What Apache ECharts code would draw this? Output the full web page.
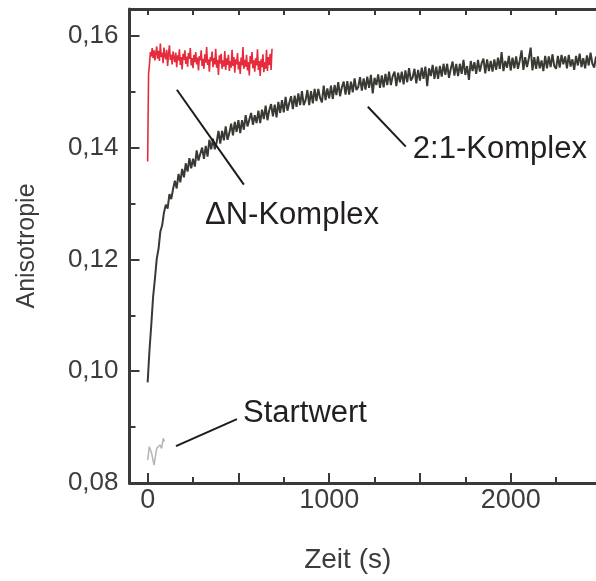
<!DOCTYPE html>
<html><head><meta charset="utf-8">
<script src="https://cdn.jsdelivr.net/npm/echarts@6/dist/echarts.min.js"></script>
<style>html,body{margin:0;padding:0;background:#fff}#c{width:596px;height:581px}</style>
</head><body><div id="c"></div>
<script>
// ---- tick values ----
const xMajorTicks = [0, 500, 1000, 1500, 2000];
const xLabelValues = [0, 1000, 2000];
const xMinorTicks = [250, 750, 1250, 1750, 2250];
const xTopTicks = [0, 250, 500, 750, 1000, 1250, 1500, 1750, 2000, 2250];
const yMajorTicks = [0.08, 0.10, 0.12, 0.14, 0.16];
const yMinorTicks = [0.09, 0.11, 0.13, 0.15];

// ---- 2:1-Komplex (black), sampled every 10 s from t = 0 ----
const complexStart = 0, complexStep = 10;
const complex21 = [
  0.0980, 0.1037, 0.1083, 0.1133, 0.1165, 0.1201, 0.1219, 0.1250, 0.1261, 0.1284,
  0.1298, 0.1291, 0.1317, 0.1308, 0.1326, 0.1341, 0.1327, 0.1353, 0.1338, 0.1362,
  0.1347, 0.1372, 0.1357, 0.1381, 0.1363, 0.1380, 0.1366, 0.1395, 0.1377, 0.1389,
  0.1400, 0.1380, 0.1403, 0.1384, 0.1414, 0.1397, 0.1416, 0.1397, 0.1409, 0.1430,
  0.1407, 0.1430, 0.1413, 0.1438, 0.1414, 0.1426, 0.1443, 0.1422, 0.1446, 0.1428,
  0.1449, 0.1426, 0.1449, 0.1432, 0.1458, 0.1438, 0.1435, 0.1462, 0.1441, 0.1458,
  0.1444, 0.1466, 0.1444, 0.1468, 0.1451, 0.1475, 0.1449, 0.1467, 0.1478, 0.1456,
  0.1477, 0.1454, 0.1482, 0.1462, 0.1485, 0.1463, 0.1491, 0.1466, 0.1480, 0.1492,
  0.1469, 0.1493, 0.1473, 0.1497, 0.1476, 0.1501, 0.1476, 0.1485, 0.1503, 0.1476,
  0.1501, 0.1479, 0.1505, 0.1483, 0.1505, 0.1489, 0.1481, 0.1511, 0.1485, 0.1506,
  0.1488, 0.1511, 0.1487, 0.1512, 0.1494, 0.1517, 0.1492, 0.1508, 0.1518, 0.1495,
  0.1519, 0.1495, 0.1518, 0.1499, 0.1524, 0.1503, 0.1508, 0.1526, 0.1502, 0.1524,
  0.1504, 0.1527, 0.1507, 0.1530, 0.1497, 0.1525, 0.1512, 0.1531, 0.1507, 0.1529,
  0.1508, 0.1532, 0.1512, 0.1536, 0.1512, 0.1528, 0.1536, 0.1510, 0.1534, 0.1517,
  0.1536, 0.1513, 0.1538, 0.1517, 0.1542, 0.1520, 0.1526, 0.1541, 0.1515, 0.1539,
  0.1520, 0.1543, 0.1523, 0.1545, 0.1510, 0.1542, 0.1528, 0.1548, 0.1523, 0.1545,
  0.1523, 0.1546, 0.1527, 0.1550, 0.1530, 0.1550, 0.1525, 0.1541, 0.1554, 0.1529,
  0.1550, 0.1528, 0.1550, 0.1532, 0.1557, 0.1530, 0.1546, 0.1521, 0.1555, 0.1537,
  0.1553, 0.1532, 0.1557, 0.1536, 0.1551, 0.1559, 0.1533, 0.1558, 0.1537, 0.1555,
  0.1536, 0.1558, 0.1539, 0.1561, 0.1541, 0.1571, 0.1537, 0.1555, 0.1543, 0.1564,
  0.1538, 0.1561, 0.1542, 0.1563, 0.1541, 0.1556, 0.1574, 0.1539, 0.1562, 0.1544,
  0.1560, 0.1579, 0.1538, 0.1562, 0.1541, 0.1563, 0.1542, 0.1556, 0.1537, 0.1564,
  0.1542, 0.1563, 0.1544, 0.1567, 0.1546, 0.1541, 0.1564, 0.1543, 0.1566, 0.1549,
  0.1563, 0.1542, 0.1566, 0.1545, 0.1558, 0.1539, 0.1564, 0.1547, 0.1568, 0.1544,
  0.1560, 0.1542, 0.1565, 0.1547, 0.1570, 0.1550, 0.1543, 0.1563
];

// ---- ΔN-Komplex (red), sampled every 5 s from t = 0 ----
const deltaNStart = 0, deltaNStep = 5;
const deltaN = [
  0.1375, 0.1532, 0.1549, 0.1571, 0.1563, 0.1578, 0.1560, 0.1574, 0.1556, 0.1569,
  0.1581, 0.1559, 0.1573, 0.1555, 0.1586, 0.1562, 0.1570, 0.1551, 0.1579, 0.1564,
  0.1558, 0.1575, 0.1546, 0.1568, 0.1583, 0.1557, 0.1566, 0.1549, 0.1572, 0.1561,
  0.1553, 0.1570, 0.1544, 0.1565, 0.1556, 0.1576, 0.1548, 0.1562, 0.1540, 0.1568,
  0.1557, 0.1574, 0.1550, 0.1563, 0.1545, 0.1569, 0.1559, 0.1578, 0.1547, 0.1560,
  0.1542, 0.1566, 0.1553, 0.1571, 0.1549, 0.1561, 0.1538, 0.1564, 0.1556, 0.1574,
  0.1546, 0.1559, 0.1541, 0.1567, 0.1552, 0.1580, 0.1548, 0.1558, 0.1536, 0.1562,
  0.1555, 0.1572, 0.1544, 0.1560, 0.1549, 0.1577, 0.1543, 0.1557, 0.1530, 0.1565,
  0.1550, 0.1568, 0.1541, 0.1556, 0.1545, 0.1573, 0.1539, 0.1560, 0.1548, 0.1566,
  0.1537, 0.1555, 0.1543, 0.1575, 0.1546, 0.1562, 0.1534, 0.1558, 0.1549, 0.1569,
  0.1540, 0.1554, 0.1532, 0.1561, 0.1547, 0.1580, 0.1541, 0.1557, 0.1545, 0.1566,
  0.1538, 0.1553, 0.1529, 0.1564, 0.1550, 0.1571, 0.1542, 0.1556, 0.1536, 0.1560,
  0.1547, 0.1576, 0.1539, 0.1555, 0.1528, 0.1558, 0.1544, 0.1567, 0.1535, 0.1553,
  0.1541, 0.1575, 0.1537, 0.1562, 0.1548, 0.1568, 0.1539, 0.1577
];

// ---- Startwert (grey) ----
const startwertT = [0, 9, 22, 35, 50, 58, 68, 77, 86, 92];
const startwertV = [0.0841, 0.0865, 0.0853, 0.0832, 0.0862, 0.0859, 0.0868, 0.0862, 0.0880, 0.0874];

// ---- labels ----
const xName = 'Zeit (s)';
const yName = 'Anisotropie';
const annotations = ['2:1-Komplex', '\u0394N-Komplex', 'Startwert'];

const complexData = complex21.map((v, i) => [complexStart + i * complexStep, v]);
const deltaNData = deltaN.map((v, i) => [deltaNStart + i * deltaNStep, v]);
const startwertData = startwertT.map((t, i) => [t, startwertV[i]]);

const FONT = '"Liberation Sans", Arial, Helvetica, sans-serif';
const AX = '#3a3a3a';
const TXT = '#3c3c3c';
const xMin = -100, xMax = 2470, yMin = 0.08, yMax = 0.1648;

const chart = echarts.init(document.getElementById('c'), null, {renderer: 'canvas'});
const leader = {color: '#1c1c1c', width: 2, type: 'solid'};
chart.setOption({
  animation: false,
  backgroundColor: '#ffffff',
  textStyle: {fontFamily: FONT},
  grid: {left: 129.5, right: 0, top: 9, bottom: 98, containLabel: false},
  xAxis: [
    {
      type: 'value', min: xMin, max: xMax, position: 'bottom',
      name: xName, nameLocation: 'middle', nameGap: 63,
      nameTextStyle: {fontSize: 28, color: TXT, fontFamily: FONT, padding: [0, 30, 0, 0]},
      axisLine: {show: true, onZero: false, lineStyle: {color: AX, width: 3}},
      axisTick: {show: true, inside: true, length: 10, customValues: xMajorTicks, lineStyle: {color: AX, width: 2}},
      axisLabel: {show: true, customValues: xLabelValues, fontSize: 27, color: TXT, margin: 4, fontFamily: FONT,
        formatter: v => String(v)},
      splitLine: {show: false}
    },
    {
      type: 'value', min: xMin, max: xMax, position: 'bottom',
      axisLine: {show: false, onZero: false},
      axisTick: {show: true, inside: true, length: 6, customValues: xMinorTicks, lineStyle: {color: AX, width: 2}},
      axisLabel: {show: false},
      splitLine: {show: false}
    },
    {
      type: 'value', min: xMin, max: xMax, position: 'top',
      axisLine: {show: true, onZero: false, lineStyle: {color: AX, width: 3}},
      axisTick: {show: true, inside: true, length: 6, customValues: xTopTicks, lineStyle: {color: AX, width: 2}},
      axisLabel: {show: false},
      splitLine: {show: false}
    }
  ],
  yAxis: [
    {
      type: 'value', min: yMin, max: yMax, position: 'left',
      name: yName, nameLocation: 'middle', nameGap: 90, nameRotate: 90,
      nameTextStyle: {fontSize: 25, color: TXT, fontFamily: FONT},
      axisLine: {show: true, onZero: false, lineStyle: {color: AX, width: 3}},
      axisTick: {show: true, inside: true, length: 10, customValues: yMajorTicks, lineStyle: {color: AX, width: 2}},
      axisLabel: {show: true, customValues: yMajorTicks, fontSize: 26, color: TXT, margin: 11, fontFamily: FONT,
        formatter: v => v.toFixed(2).replace('.', ',')},
      splitLine: {show: false}
    },
    {
      type: 'value', min: yMin, max: yMax, position: 'left',
      axisLine: {show: false, onZero: false},
      axisTick: {show: true, inside: true, length: 6, customValues: yMinorTicks, lineStyle: {color: AX, width: 2}},
      axisLabel: {show: false},
      splitLine: {show: false}
    }
  ],
  series: [
    {
      name: annotations[0], type: 'line', data: complexData, showSymbol: false, symbol: 'none',
      lineStyle: {color: '#3a3a34', width: 2}, z: 3,
      markLine: {
        silent: true, symbol: 'none', label: {show: false}, lineStyle: leader,
        data: [
          [{coord: [1213, 0.14732]}, {coord: [1422, 0.14018]}],
          [{coord: [161, 0.15036]}, {coord: [530, 0.13339]}],
          [{coord: [156, 0.08660]}, {coord: [492, 0.09142]}]
        ]
      },
      markPoint: {
        silent: true, symbol: 'circle', symbolSize: 0,
        label: {show: true, position: 'right', distance: 0, formatter: '{b}', fontSize: 31, color: '#231f20', fontFamily: FONT},
        data: [
          {name: annotations[0], coord: [1461, 0.1396]},
          {name: annotations[1], coord: [316, 0.1279]},
          {name: annotations[2], coord: [525, 0.0924]}
        ]
      }
    },
    {
      name: annotations[1], type: 'line', data: deltaNData, showSymbol: false, symbol: 'none',
      lineStyle: {color: '#e62b3c', width: 1.6}, z: 3
    },
    {
      name: annotations[2], type: 'line', data: startwertData, showSymbol: false, symbol: 'none',
      lineStyle: {color: '#b5b5b5', width: 1.5}, z: 3
    }
  ]
});
</script>
</body></html>
